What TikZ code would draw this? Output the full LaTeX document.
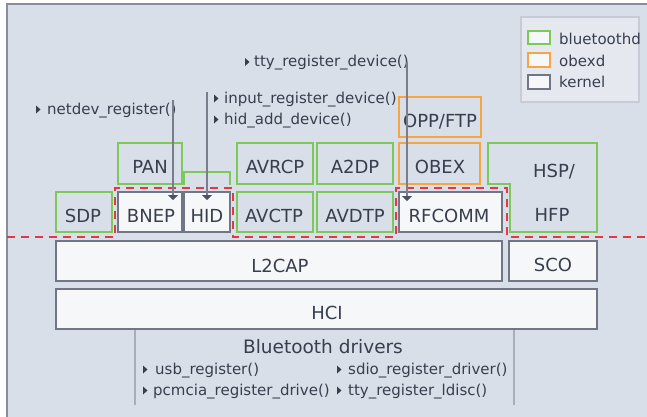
\documentclass[tikz,border=0pt]{standalone}
\usepackage{fontspec}
\setmainfont{DejaVu Sans}
\usetikzlibrary{fit,arrows.meta}
\definecolor{bg}{HTML}{D9DFE8}
\definecolor{frm}{HTML}{8A8E9C}
\definecolor{txt}{HTML}{373E4E}
\definecolor{grn}{HTML}{7CC95A}
\definecolor{org}{HTML}{F6A540}
\definecolor{kgr}{HTML}{717686}
\definecolor{kfl}{HTML}{F6F7F9}
\definecolor{red}{HTML}{E23A44}
\definecolor{lgbg}{HTML}{E5E9EF}
\definecolor{lgbd}{HTML}{C6CBD5}
\definecolor{arr}{HTML}{7A7E8C}
\definecolor{arh}{HTML}{4D5262}
\definecolor{drv}{HTML}{AAAEB8}
\newcommand\tri[2]{\fill[txt] (#1,#2-4) -- (#1+4.5,#2) -- (#1,#2+4) -- cycle;}
\begin{document}
\begin{tikzpicture}[x=1pt,y=-1pt,
  base/.style={inner sep=0pt,outer sep=0pt,line width=1.8pt},
  gbox/.style={base,draw=grn},
  obox/.style={base,draw=org},
  kbox/.style={base,draw=kgr,fill=kfl},
  big/.style={text=txt,font=\fontsize{18}{20}\selectfont,anchor=base,inner sep=0pt},
  small/.style={text=txt,font=\fontsize{15}{18}\selectfont,anchor=base west,inner sep=0pt},
  conn/.style={draw=arr,line width=1.3pt,-{Triangle[width=10pt,length=5pt,color=arh,fill=arh]}},
  rline/.style={draw=red,line width=2pt,dash pattern=on 8pt off 6pt},
  dline/.style={draw=drv,line width=1.6pt}]
\useasboundingbox (0,0) rectangle (647,416);
\fill[white] (0,0) rectangle (647,416);
\node[base,draw=frm,fill=bg,line width=2pt,fit={(7,4) (662,432)}] (frame) {};

% legend
\node[base,draw=lgbd,fill=lgbg,line width=1.5pt,fit={(521,17) (639,102)}] (legend) {};
\node[base,draw=grn,fill=kfl,line width=1.5pt,fit={(528,31) (550,44)}] (lg1) {};
\node[base,draw=org,fill=kfl,line width=1.5pt,fit={(528,53) (550,67)}] (lg2) {};
\node[base,draw=kgr,fill=kfl,line width=1.5pt,fit={(528,75) (550,89)}] (lg3) {};
\node[small] (lgt1) at (559,44) {bluetoothd};
\node[small] (lgt2) at (559,66) {obexd};
\node[small] (lgt3) at (559,87) {kernel};

% upper row
\node[gbox,fit={(118,143) (182,184)}] (pan) {};
\node[gbox,fit={(237,143) (313,184)}] (avrcp) {};
\node[gbox,fit={(317,143) (393,184)}] (a2dp) {};
\node[obox,fit={(399,143) (480,184)}] (obex) {};
\node[obox,fit={(399,97) (481,137)}] (oppftp) {};
\draw[grn,line width=1.8pt] (184,185) -- (184,172) -- (230,172) -- (230,185);
\draw[grn,line width=1.8pt] (488,143) -- (597,143) -- (597,232) -- (510,232) -- (510,184) -- (488,184) -- cycle;

% lower row
\node[gbox,fit={(56,192) (112,232)}] (sdp) {};
\node[kbox,fit={(118,192) (182,232)}] (bnep) {};
\node[kbox,fit={(184,192) (230,232)}] (hid) {};
\node[gbox,fit={(237,192) (313,232)}] (avctp) {};
\node[gbox,fit={(317,192) (393,232)}] (avdtp) {};
\node[kbox,fit={(399,192) (502,232)}] (rfcomm) {};

\node[kbox,fit={(56,241) (502,281)}] (l2cap) {};
\node[kbox,fit={(509,241) (597,281)}] (sco) {};
\node[kbox,fit={(56,289) (597,329)}] (hci) {};

% labels
\node[big] (tpan) at (150,173) {PAN};
\node[big] (tavrcp) at (275,173) {AVRCP};
\node[big] (ta2dp) at (355,173) {A2DP};
\node[big] (tobex) at (440,173) {OBEX};
\node[big] (topp) at (440,127) {OPP/FTP};
\node[big] (tsdp) at (83,222) {SDP};
\node[big] (tbnep) at (151,222) {BNEP};
\node[big] (thid) at (207,222) {HID};
\node[big] (tavctp) at (274,222) {AVCTP};
\node[big] (tavdtp) at (355,222) {AVDTP};
\node[big] (trfc) at (449,222) {RFCOMM};
\node[big] (thsp) at (554,177) {HSP/};
\node[big] (thfp) at (552,221) {HFP};
\node[big] (tl2) at (280,272) {L2CAP};
\node[big] (tsco) at (553,271) {SCO};
\node[big] (thci) at (327,319.5) {HCI};

% red boundary
\draw[rline] (7,237) -- (115,237) -- (115,188) -- (233,188) -- (233,237) -- (396,237) -- (396,188) -- (507,188) -- (507,237) -- (647,237);

% top labels
\tri{36}{109.5}
\node[small] (lnet) at (47,114) {netdev\_register()};
\tri{245}{62}
\node[small] (ltty) at (254,66) {tty\_register\_device()};
\tri{214}{98.5}
\node[small] (linp) at (224,103) {input\_register\_device()};
\tri{214}{119.5}
\node[small] (lhid) at (224,124) {hid\_add\_device()};

% connectors
\coordinate (s1) at (173,100);
\coordinate (s2) at (207,92);
\coordinate (s3) at (407,62);
\coordinate (e1) at (173,200);
\coordinate (e2) at (207,200);
\coordinate (e3) at (407,201);
\draw[conn] (s1) -- (e1);
\draw[conn] (s2) -- (e2);
\draw[conn] (s3) -- (e3);

% drivers
\coordinate (d1a) at (135,330);
\coordinate (d1b) at (135,405);
\coordinate (d2a) at (514,330);
\coordinate (d2b) at (514,405);
\draw[dline] (d1a) -- (d1b);
\draw[dline] (d2a) -- (d2b);
\node[big,font=\fontsize{18.5}{20}\selectfont] (tdrv) at (323,353) {Bluetooth drivers};
\tri{143}{369.5}
\node[small] (lusb) at (155,374) {usb\_register()};
\tri{143}{390.5}
\node[small] (lpcm) at (153,395) {pcmcia\_register\_drive()};
\tri{337}{369.5}
\node[small] (lsdio) at (348,374) {sdio\_register\_driver()};
\tri{337}{390.5}
\node[small] (lldisc) at (348,395) {tty\_register\_ldisc()};
\end{tikzpicture}
\end{document}
